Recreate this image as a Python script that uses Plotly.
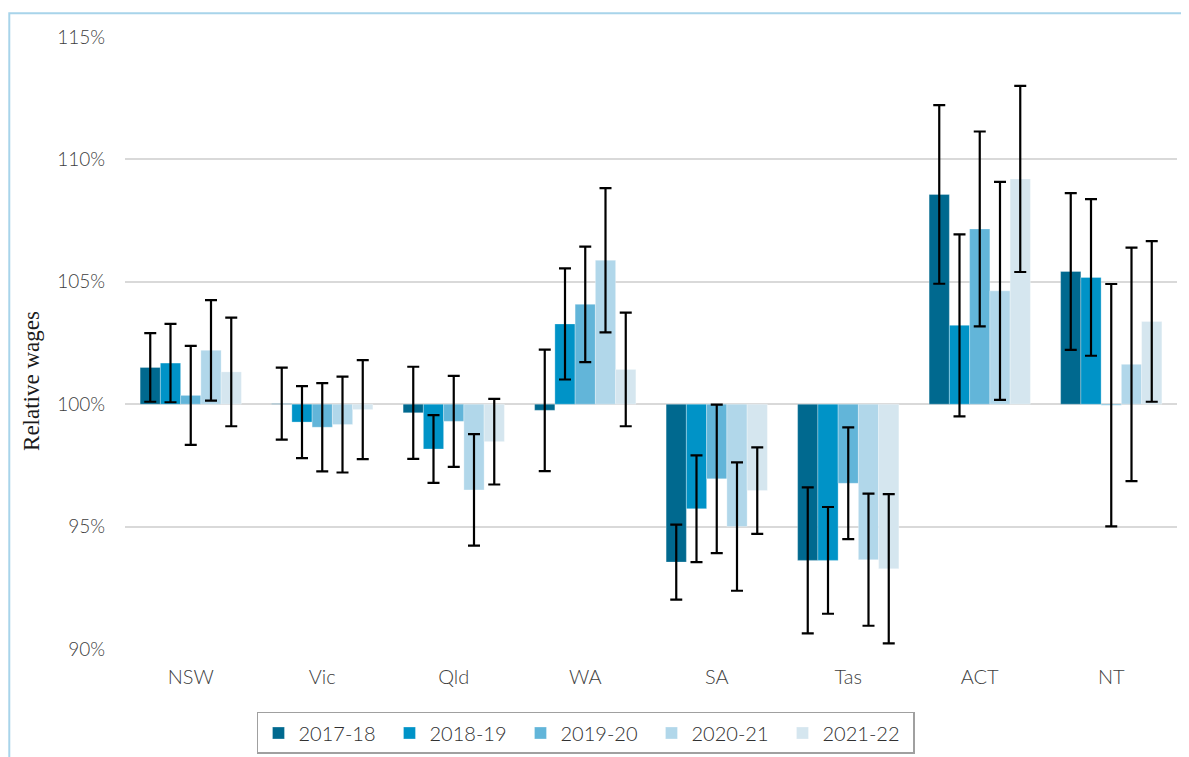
import plotly.graph_objects as go

states = ["NSW", "Vic", "Qld", "WA", "SA", "Tas", "ACT", "NT"]
years = ["2017-18", "2018-19", "2019-20", "2020-21", "2021-22"]
colors = ["#00698F", "#0093C7", "#62B5D9", "#B1D7EA", "#D5E6EF"]

# relative wages (%), per year across states
v_2017 = [101.5, 100.02, 99.65, 99.75, 93.55, 93.62, 108.57, 105.42]
v_2018 = [101.68, 99.27, 98.17, 103.28, 95.73, 93.62, 103.22, 105.18]
v_2019 = [100.36, 99.06, 99.3, 104.08, 96.95, 96.77, 107.16, 99.96]
v_2020 = [102.2, 99.17, 96.5, 105.88, 95.0, 93.65, 104.63, 101.63]
v_2021 = [101.32, 99.78, 98.47, 101.42, 96.47, 93.28, 109.2, 103.38]

# error bar half widths (percentage points)
e_2017 = [1.4, 1.47, 1.88, 2.48, 1.53, 2.98, 3.65, 3.2]
e_2018 = [1.6, 1.47, 1.38, 2.27, 2.18, 2.18, 3.72, 3.2]
e_2019 = [2.02, 1.8, 1.86, 2.36, 3.03, 2.28, 3.98, 4.95]
e_2020 = [2.05, 1.96, 2.28, 2.95, 2.62, 2.7, 4.45, 4.77]
e_2021 = [2.22, 2.02, 1.75, 2.32, 1.77, 3.05, 3.8, 3.28]

y_ticks = [90, 95, 100, 105, 110, 115]
y_ticklabels = [f"{t}%" for t in y_ticks]

values = [v_2017, v_2018, v_2019, v_2020, v_2021]
errors = [e_2017, e_2018, e_2019, e_2020, e_2021]

BASE = 100

fig = go.Figure()
for yr, col, vals, errs in zip(years, colors, values, errors):
    fig.add_trace(go.Bar(
        x=states,
        y=[v - BASE for v in vals],
        base=BASE,
        name=yr,
        marker=dict(color=col, line=dict(color="rgba(255,255,255,0.6)", width=0.5)),
        error_y=dict(type="data", array=errs, visible=True, color="#000000",
                     thickness=2.2, width=6),
    ))

y_font = dict(family="Lato, 'Open Sans', sans-serif", size=19, color="#404040", weight=300)
x_font = dict(family="Lato, 'Open Sans', sans-serif", size=20, color="#404040", weight=300)

fig.update_layout(
    width=1181, height=749,
    barmode="group",
    bargap=0.23,
    bargroupgap=0,
    plot_bgcolor="white",
    paper_bgcolor="white",
    margin=dict(l=117, r=12, t=29, b=108, autoexpand=False),
    showlegend=True,
    legend=dict(
        orientation="h",
        xref="container", yref="container",
        x=0.4894, xanchor="center",
        y=0.0601, yanchor="top",
        bordercolor="#A0A0A0", borderwidth=1.5,
        font=dict(family="Lato, 'Open Sans', sans-serif", size=20, color="#303030", weight=300),
        traceorder="normal",
        itemwidth=30,
        entrywidth=86,
    ),
    xaxis=dict(
        showgrid=False, showline=False, ticks="",
        tickfont=x_font,
        ticklabelstandoff=14,
    ),
    yaxis=dict(
        range=[90, 115],
        tickvals=y_ticks,
        ticktext=y_ticklabels,
        showgrid=True, gridcolor="#D9D9D9", gridwidth=1.5,
        zeroline=False, showline=False, ticks="",
        tickfont=y_font,
        ticklabelstandoff=19,
    ),
    shapes=[dict(
        type="rect", xref="paper", yref="paper",
        x0=-0.110, x1=1.2, y0=-0.3, y1=1.039,
        line=dict(color="#A8D4EA", width=2), fillcolor="rgba(0,0,0,0)",
        layer="below",
    )],
    annotations=[dict(
        text="Relative wages", textangle=-90,
        xref="paper", yref="paper",
        x=-0.0884, y=0.438, xanchor="center", yanchor="middle",
        showarrow=False,
        font=dict(family="Liberation Serif, 'DejaVu Serif', serif", size=23, color="#1a1a1a"),
    )],
)

fig.write_html("out.html")
